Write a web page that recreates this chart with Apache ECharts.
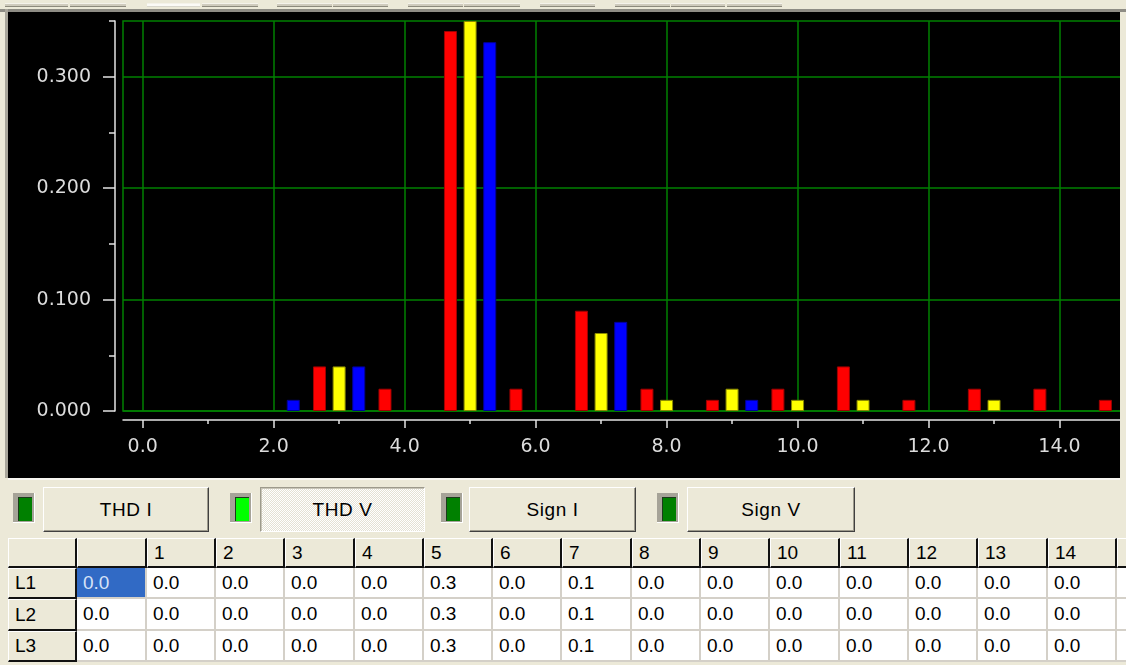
<!DOCTYPE html>
<html>
<head>
<meta charset="utf-8">
<script src="https://cdn.jsdelivr.net/npm/echarts@6/dist/echarts.min.js"></script>
<style>
  html, body { margin:0; padding:0; }
  body { width:1126px; height:665px; overflow:hidden; position:relative; background:#ece9d8;
         font-family:"Liberation Sans", Arial, sans-serif; }
  .abs { position:absolute; box-sizing:border-box; }
  .tb { height:4px; top:3px; background:#cfcbbd; border-bottom:1px solid #8d8a7c; border-top:1px solid #f4f2ea; }
  .tb.light { background:#fbfaf6; border-bottom:1px solid #d8d6cc; }
  .led { width:22px; height:30px; background:#a6a398; border-right:1px solid #fff; border-bottom:1px solid #fff; }
  .led .in { position:absolute; left:5px; top:4px; width:14px; height:24px; box-shadow: inset 1px 1px 0 #1c3a1c; }
  .btn { height:45px; top:487px; background:#ece9d8; border:1px solid; border-color:#fff #404040 #404040 #fff;
         box-shadow: inset -1px -1px 0 #9d9a8c; font-size:19px; color:#000; letter-spacing:0.6px;
         display:flex; align-items:center; justify-content:center; }
  .btn.down { border-color:#9d9a8c #fff #fff #9d9a8c; box-shadow: inset 1px 1px 0 #c8c5b8;
         background: repeating-conic-gradient(#ffffff 0 25%, #e4e1d4 0 50%) 0 0/2px 2px; }
  .cell { font-size:19px; color:#000; padding-left:6px; display:flex; align-items:center; white-space:nowrap; overflow:hidden; }
  .hd { background:#ece9d8; border-right:2px solid #111; border-bottom:2px solid #111; border-top:1px solid #fff; border-left:1px solid #fff; }
  .dc { background:#fff; border-right:2px solid #d4d0c8; border-bottom:2px solid #d4d0c8; }
  .sel { background:#316ac5; color:#d6e2f7; }
</style>
</head>
<body>
<div id="toolbar"></div>
<div class="abs" style="left:0;top:9px;width:1126px;height:3px;background:#8e8c84;"></div>
<div class="abs" style="left:5px;top:9px;width:3px;height:469px;background:#a9a69b;"></div>
<div class="abs" style="left:8px;top:12px;width:1112px;height:466px;overflow:hidden;background:#000;">
  <div id="chart" style="position:absolute;left:0;top:0;width:1130px;height:466px;"></div>
</div>
<div class="abs" style="left:8px;top:478px;width:1112px;height:2px;background:#f7f6f1;"></div>
<div id="buttons"></div>
<div id="table"></div>
<script>
// ---------- data ----------
var harmonics   = [2, 3, 4, 5, 6, 7, 8, 9, 10, 11, 12, 13, 14, 15];
var valuesRed    = [null, 0.040, 0.020, 0.341, 0.020, 0.090, 0.020, 0.010, 0.020, 0.040, 0.010, 0.020, 0.020, 0.010];
var valuesYellow = [null, 0.040, null, 0.350, null, 0.070, 0.010, 0.020, 0.010, 0.010, null, 0.010, null, null];
var valuesBlue   = [0.010, 0.040, null, 0.331, null, 0.080, null, 0.010, null, null, null, null, null, null];
var xTickValues  = [0, 2, 4, 6, 8, 10, 12, 14];
var xMinorTicks  = [1, 3, 5, 7, 9, 11, 13];
var yTickValues  = [0, 0.1, 0.2, 0.3];
var yMinorTicks  = [0.05, 0.15, 0.25, 0.35];

var buttonLabels = ['THD I', 'THD V', 'Sign I', 'Sign V'];
var buttonActive = [false, true, false, false];

var tableColumns = ['', '1', '2', '3', '4', '5', '6', '7', '8', '9', '10', '11', '12', '13', '14', ''];
var rowLabels    = ['L1', 'L2', 'L3'];
var rowL1 = ['0.0','0.0','0.0','0.0','0.0','0.3','0.0','0.1','0.0','0.0','0.0','0.0','0.0','0.0','0.0',''];
var rowL2 = ['0.0','0.0','0.0','0.0','0.0','0.3','0.0','0.1','0.0','0.0','0.0','0.0','0.0','0.0','0.0',''];
var rowL3 = ['0.0','0.0','0.0','0.0','0.0','0.3','0.0','0.1','0.0','0.0','0.0','0.0','0.0','0.0','0.0',''];
var toolbarSegments = [[5,68],[70,126],[147,200],[202,258],[277,332],[333,388],[408,463],[464,520],[540,595],[615,670],[671,725],[727,782]];

// ---------- toolbar remnants ----------
(function(){
  var tb = document.getElementById('toolbar'), h = '';
  toolbarSegments.forEach(function(s, i){
    h += '<div class="abs tb' + (i === 2 ? ' light' : '') + '" style="left:' + s[0] + 'px;width:' + (s[1]-s[0]) + 'px;"></div>';
  });
  tb.innerHTML = h;
})();

// ---------- buttons ----------
(function(){
  var ledX = [13, 230, 441, 657], btnX = [43, 260, 469, 687], btnW = [166, 165, 167, 168];
  var h = '';
  buttonLabels.forEach(function(lbl, i){
    h += '<div class="abs led" style="left:' + ledX[i] + 'px;top:493px;"><div class="in" style="background:' + (buttonActive[i] ? '#00ff00' : '#008000') + ';"></div></div>';
    h += '<div class="abs btn' + (buttonActive[i] ? ' down' : '') + '" style="left:' + btnX[i] + 'px;width:' + btnW[i] + 'px;">' + lbl + '</div>';
  });
  document.getElementById('buttons').innerHTML = h;
})();

// ---------- table ----------
(function(){
  var colW = 69.3, x0 = 8, top0 = 538, hdH = 30, rowH = 31.3;
  var rows = [rowL1, rowL2, rowL3];
  var h = '';
  function cx(k){ return Math.round(x0 + colW * k); }
  // corner
  h += '<div class="abs cell hd" style="left:' + cx(0) + 'px;top:' + top0 + 'px;width:' + (cx(1)-cx(0)) + 'px;height:' + hdH + 'px;"></div>';
  tableColumns.forEach(function(c, k){
    h += '<div class="abs cell hd" style="left:' + cx(k+1) + 'px;top:' + top0 + 'px;width:' + (cx(k+2)-cx(k+1)) + 'px;height:' + hdH + 'px;">' + c + '</div>';
  });
  rows.forEach(function(r, ri){
    var t = Math.round(top0 + hdH + rowH * ri), t2 = Math.round(top0 + hdH + rowH * (ri+1));
    h += '<div class="abs cell hd" style="left:' + cx(0) + 'px;top:' + t + 'px;width:' + (cx(1)-cx(0)) + 'px;height:' + (t2-t) + 'px;">' + rowLabels[ri] + '</div>';
    r.forEach(function(v, k){
      var sel = (ri === 0 && k === 0) ? ' sel' : '';
      h += '<div class="abs cell dc' + sel + '" style="left:' + cx(k+1) + 'px;top:' + t + 'px;width:' + (cx(k+2)-cx(k+1)) + 'px;height:' + (t2-t) + 'px;">' + v + '</div>';
    });
  });
  document.getElementById('table').innerHTML = h;
})();

// ---------- chart ----------
var chart = echarts.init(document.getElementById('chart'), null, {renderer:'canvas'});
var axisColor = '#e4e4e4', gridGreen = '#008000', labelColor = '#dcdcdc';
function pairs(vals){ return harmonics.map(function(hh, i){ return vals[i] == null ? null : [hh, vals[i]]; }).filter(function(p){ return p; }); }
var barCommon = { type:'bar', barWidth:13, barGap:'51%', xAxisIndex:0, yAxisIndex:0, clip:true, animation:false };
chart.setOption({
  backgroundColor:'#000',
  animation:false,
  grid:{ left:115, top:9, right:13, bottom:67, show:true, borderColor:gridGreen, borderWidth:1.5, backgroundColor:'#000' },
  xAxis:[
    { type:'value', min:-0.3, max:15, position:'bottom', offset:9,
      axisLine:{ show:true, onZero:false, lineStyle:{ color:axisColor, width:1.5 } },
      axisTick:{ show:true, length:8, customValues:xTickValues, lineStyle:{ color:axisColor, width:1.5 } },
      axisLabel:{ show:true, customValues:xTickValues, margin:18, color:labelColor, fontSize:19, fontFamily:'DejaVu Sans',
                  formatter:function(v){ return Number(v).toFixed(1); } },
      splitLine:{ show:true, lineStyle:{ color:gridGreen, width:1.5 } } },
    { type:'value', min:-0.3, max:15, position:'bottom', offset:9,
      axisLine:{ show:false, onZero:false },
      axisTick:{ show:true, length:4, customValues:xMinorTicks, lineStyle:{ color:axisColor, width:1.5 } },
      axisLabel:{ show:false }, splitLine:{ show:false } }
  ],
  yAxis:[
    { type:'value', min:0, max:0.35, position:'left', offset:8,
      axisLine:{ show:true, onZero:false, lineStyle:{ color:axisColor, width:1.5 } },
      axisTick:{ show:true, length:12, customValues:yTickValues, lineStyle:{ color:axisColor, width:1.5 } },
      axisLabel:{ show:true, customValues:yTickValues, margin:24, color:labelColor, fontSize:19, fontFamily:'DejaVu Sans',
                  formatter:function(v){ return Number(v).toFixed(3); } },
      splitLine:{ show:true, lineStyle:{ color:gridGreen, width:1.5 } } },
    { type:'value', min:0, max:0.35, position:'left', offset:8,
      axisLine:{ show:false, onZero:false },
      axisTick:{ show:true, length:6, customValues:yMinorTicks, lineStyle:{ color:axisColor, width:1.5 } },
      axisLabel:{ show:false }, splitLine:{ show:false } }
  ],
  series:[
    Object.assign({ name:'L1', data:pairs(valuesRed),    itemStyle:{ color:'#ff0000', borderColor:'#a00000', borderWidth:1 } }, barCommon),
    Object.assign({ name:'L2', data:pairs(valuesYellow), itemStyle:{ color:'#ffff00', borderColor:'#8a8a00', borderWidth:1 } }, barCommon),
    Object.assign({ name:'L3', data:pairs(valuesBlue),   itemStyle:{ color:'#0000ff', borderColor:'#00009a', borderWidth:1 } }, barCommon)
  ]
});
</script>
</body>
</html>
